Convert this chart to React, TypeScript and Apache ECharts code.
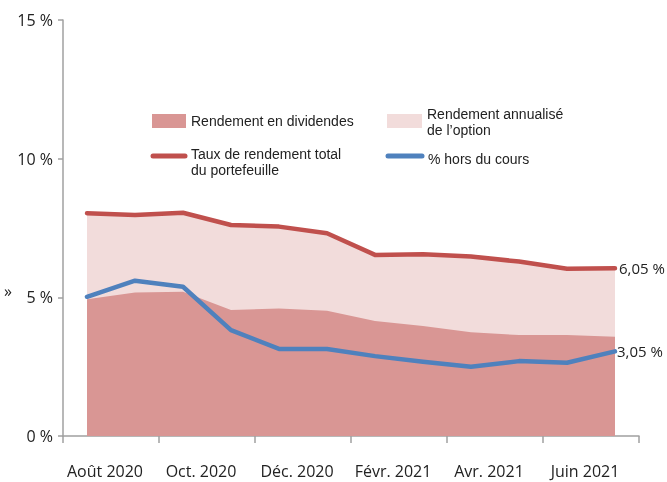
import React, { useEffect, useRef } from "react";
import * as echarts from "echarts";

const months = ["2020-08","2020-09","2020-10","2020-11","2020-12","2021-01","2021-02","2021-03","2021-04","2021-05","2021-06","2021-07"];
const tickLabels = ["Août 2020", "Oct. 2020", "Déc. 2020", "Févr. 2021", "Avr. 2021", "Juin 2021"];
const dividendYield = [4.93, 5.17, 5.2, 4.54, 4.6, 4.52, 4.15, 3.97, 3.74, 3.64, 3.64, 3.58];
const totalReturn = [8.03, 7.97, 8.05, 7.61, 7.55, 7.31, 6.53, 6.55, 6.47, 6.29, 6.03, 6.05];
const outOfMoney = [5.02, 5.6, 5.38, 3.82, 3.14, 3.14, 2.88, 2.68, 2.5, 2.7, 2.64, 3.05];
const yTicks = [0, 5, 10, 15];

const FONT = "'Open Sans', 'Noto Sans', sans-serif";
const LFONT = "'Liberation Sans', Arial, sans-serif";
const TXT = "#222";
const AXIS = "#a0a0a0";
const DARK = "#D99694";
const LIGHT = "#F2DCDB";
const RED = "#C0504D";
const BLUE = "#4F81BD";

export default function App() {
  const ref = useRef<HTMLDivElement>(null);
  useEffect(() => {
    if (!ref.current) return;
    const chart = echarts.init(ref.current, null, { renderer: "svg" });
    const fmt = (v: number) => v.toFixed(2).replace(".", ",") + " %";
    const legendText = (x: number, y: number, text: string) => ({
      type: "text",
      x,
      y,
      style: { text, fill: TXT, font: `14px ${LFONT}`, verticalAlign: "middle" },
    });
    chart.setOption({
      animation: false,
      textStyle: { fontFamily: FONT },
      grid: { left: 63, right: 28, top: 20, bottom: 46, containLabel: false },
      xAxis: [
        { type: "category", data: months, show: false, boundaryGap: true, position: "bottom" },
        {
          type: "category",
          data: tickLabels,
          position: "bottom",
          boundaryGap: true,
          axisLine: { show: true, lineStyle: { color: AXIS, width: 1.5 } },
          axisTick: { show: true, length: 7, lineStyle: { color: AXIS, width: 1.5 } },
          axisLabel: {
            color: TXT,
            fontSize: 16,
            fontFamily: FONT,
            margin: 27,
            padding: [0, 12, 0, 0],
            interval: 0,
          },
        },
      ],
      yAxis: {
        type: "value",
        min: 0,
        max: 15,
        interval: 5,
        splitLine: { show: false },
        axisLine: { show: true, lineStyle: { color: AXIS, width: 1.5 } },
        axisTick: { show: true, length: 5, lineStyle: { color: AXIS, width: 1.5 } },
        axisLabel: {
          color: TXT,
          fontSize: 16,
          fontFamily: FONT,
          margin: 10,
          formatter: (v: number) => (yTicks.includes(v) ? v + " %" : ""),
        },
      },
      series: [
        {
          name: "Rendement annualisé de l’option",
          type: "line",
          xAxisIndex: 0,
          data: totalReturn,
          symbol: "none",
          lineStyle: { width: 0 },
          areaStyle: { color: LIGHT, opacity: 1 },
          z: 1,
        },
        {
          name: "Rendement en dividendes",
          type: "line",
          xAxisIndex: 0,
          data: dividendYield,
          symbol: "none",
          lineStyle: { width: 0 },
          areaStyle: { color: DARK, opacity: 1 },
          z: 2,
        },
        {
          name: "Taux de rendement total du portefeuille",
          type: "line",
          xAxisIndex: 0,
          data: totalReturn,
          symbol: "none",
          lineStyle: { color: RED, width: 4.5, cap: "round", join: "round" },
          endLabel: {
            show: true,
            color: TXT,
            fontSize: 15,
            fontFamily: FONT,
            distance: 4,
            formatter: (p: any) => fmt(p.value),
          },
          z: 3,
        },
        {
          name: "% hors du cours",
          type: "line",
          xAxisIndex: 0,
          data: outOfMoney,
          symbol: "none",
          lineStyle: { color: BLUE, width: 4.5, cap: "round", join: "round" },
          endLabel: {
            show: true,
            color: TXT,
            fontSize: 15,
            fontFamily: FONT,
            distance: 2,
            formatter: (p: any) => fmt(p.value),
          },
          z: 4,
        },
      ],
      graphic: [
        { type: "rect", shape: { x: 152, y: 114, width: 34, height: 14 }, style: { fill: DARK } },
        legendText(191, 121, "Rendement en dividendes"),
        { type: "rect", shape: { x: 387, y: 114, width: 35, height: 14 }, style: { fill: LIGHT } },
        legendText(427, 114, "Rendement annualisé"),
        legendText(427, 130, "de l’option"),
        { type: "line", shape: { x1: 153, y1: 156, x2: 185, y2: 156 }, style: { stroke: RED, lineWidth: 5, lineCap: "round" } },
        legendText(191, 154, "Taux de rendement total"),
        legendText(191, 170, "du portefeuille"),
        { type: "line", shape: { x1: 388, y1: 156, x2: 422, y2: 156 }, style: { stroke: BLUE, lineWidth: 5, lineCap: "round" } },
        legendText(428, 159, "% hors du cours"),
        {
          type: "text", x: 4, y: 291,
          style: { text: "»", fill: TXT, font: `16px ${FONT}`, verticalAlign: "middle" },
        },
      ],
    });
    return () => chart.dispose();
  }, []);
  return <div ref={ref} style={{ position: "fixed", left: 0, top: 0, width: 667, height: 482 }} />;
}
